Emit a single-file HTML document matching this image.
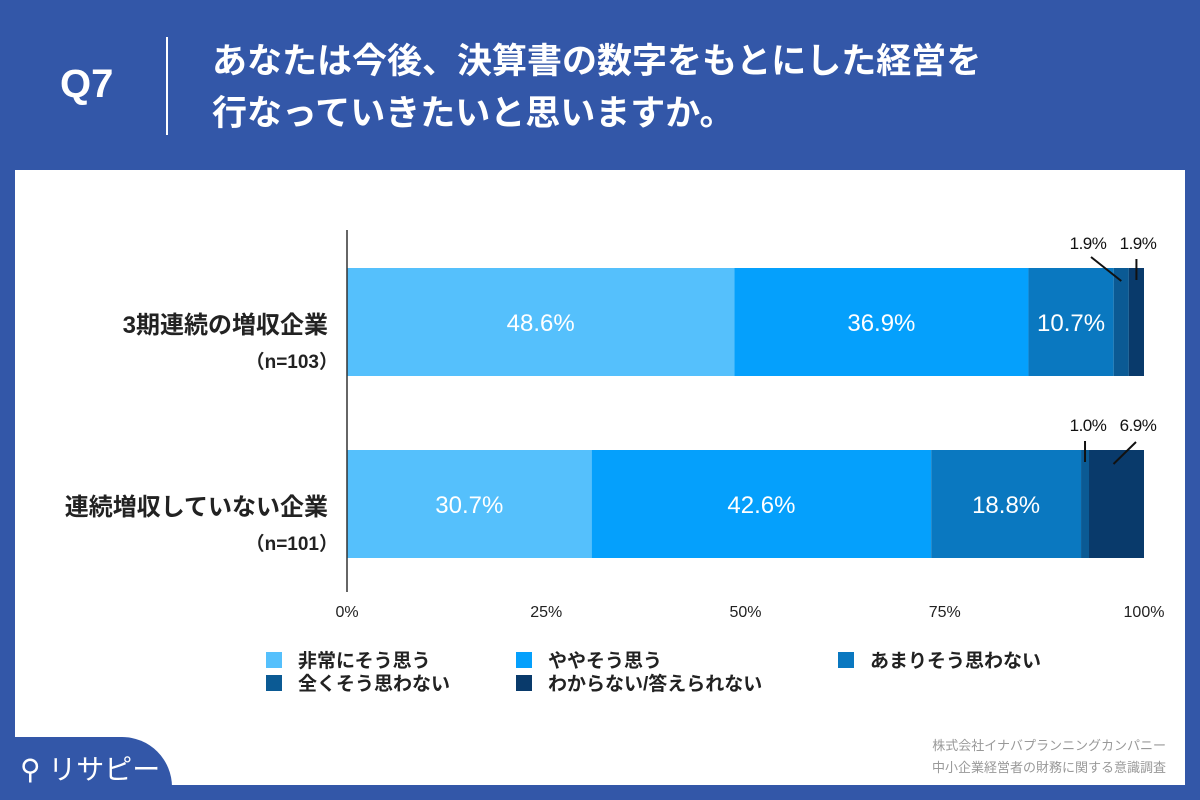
<!DOCTYPE html>
<html><head><meta charset="utf-8"><style>
body{margin:0;width:1200px;height:800px;background:#3357a8;font-family:"Liberation Sans","Noto Sans CJK JP",sans-serif;position:relative;overflow:hidden}
.abs{position:absolute}
</style></head><body>
<div class="abs" style="left:60px;top:62px;color:#fff;font-size:40px;font-weight:bold">Q7</div>
<div class="abs" style="left:166px;top:37px;width:2px;height:98px;background:#fff"></div>
<div class="abs" style="left:212px;top:36px;color:#fff;font-size:35px;font-weight:bold;line-height:52px;white-space:nowrap">あなたは今後、決算書の数字をもとにした経営を<br>行なっていきたいと思いますか。</div>
<div class="abs" style="left:15px;top:170px;width:1170px;height:615px;background:#fff"></div>
<div class="abs" style="left:0;top:737px;width:172px;height:63px;background:#3357a8;border-top-right-radius:50px"></div>
<div class="abs" style="left:20px;top:748px;color:#fff;font-size:28px">⚲ リサピー</div>
<div class="abs" style="right:34px;top:735px;color:#999;font-size:13px;text-align:right;line-height:22px">株式会社イナバプランニングカンパニー<br>中小企業経営者の財務に関する意識調査</div>
<svg class="abs" style="left:0;top:0" width="1200" height="800" id="chart"></svg>
<script>
const categories=["3期連続の増収企業","連続増収していない企業"];
const nLabels=["（n=103）","（n=101）"];
const seriesNames=["非常にそう思う","ややそう思う","あまりそう思わない","全くそう思わない","わからない/答えられない"];
const row1=[48.6,36.9,10.7,1.9,1.9];
const row2=[30.7,42.6,18.8,1.0,6.9];
const ticks=[0,25,50,75,100];
const colors=["#55c0fc","#05a0fc","#0a78c0","#0b5a94","#093a6b"];
const rows=[row1,row2];
const svg=document.getElementById('chart');const NS="http://www.w3.org/2000/svg";
const X0=347,X1=1144;const x=v=>X0+(X1-X0)*v/100;
const rowY=[268,450],BH=108;
function mk(t,a,txt){const e=document.createElementNS(NS,t);for(const k in a)e.setAttribute(k,a[k]);if(txt!=null)e.textContent=txt;svg.appendChild(e);return e;}
rows.forEach((r,i)=>{let acc=0;const y=rowY[i];
 const c=mk('text',{x:328,y:y+65,'text-anchor':'end','font-size':24,'font-weight':'bold',fill:'#222'},categories[i]);
 
 const n=mk('text',{x:338,y:y+100,'text-anchor':'end','font-size':19,'font-weight':'bold',fill:'#222'},nLabels[i]);
 
 const small=[];
 r.forEach((v,j)=>{const b=mk('rect',{x:x(acc),y:y,width:x(acc+v)-x(acc),height:BH,fill:colors[j]});
  
  const mid=x(acc+v/2);
  if(j<3){const t=mk('text',{x:mid,y:y+BH/2+9,'text-anchor':'middle','font-size':24,fill:'#fff'},v.toFixed(1)+'%');
   }
  else small.push([j,mid,v]);
  acc+=v;});
 small.forEach((s,k)=>{const lx=k===0?1088:1138;
  const t=mk('text',{x:lx,y:y-19,'text-anchor':'middle','font-size':17,'letter-spacing':-0.5,fill:'#111'},s[2].toFixed(1)+'%');
  
  let a;
  if(i===0&&k===0)a={x1:1091,y1:y-11,x2:s[1],y2:y+13};
  else if(i===1&&k===1)a={x1:1136,y1:y-8,x2:s[1]-3,y2:y+14};
  else a={x1:s[1],y1:y-9,x2:s[1],y2:y+12};
  a.stroke='#111';a['stroke-width']=2;
  const l=mk('line',a);
  });
});
const ax=mk('line',{x1:X0,y1:230,x2:X0,y2:592,stroke:'#333','stroke-width':1.5});

ticks.forEach(t=>{const e=mk('text',{x:x(t),y:617,'text-anchor':'middle','font-size':16,fill:'#222'},t+'%');
 });
const lp=[[266,660],[516,660],[838,660],[266,683],[516,683]];
seriesNames.forEach((s,j)=>{const r=mk('rect',{x:lp[j][0],y:lp[j][1]-8,width:16,height:16,fill:colors[j]});
 
 const t=mk('text',{x:lp[j][0]+32,y:lp[j][1]+7,'font-size':19,'font-weight':'bold',fill:'#222'},s);
 });
</script>
</body></html>
